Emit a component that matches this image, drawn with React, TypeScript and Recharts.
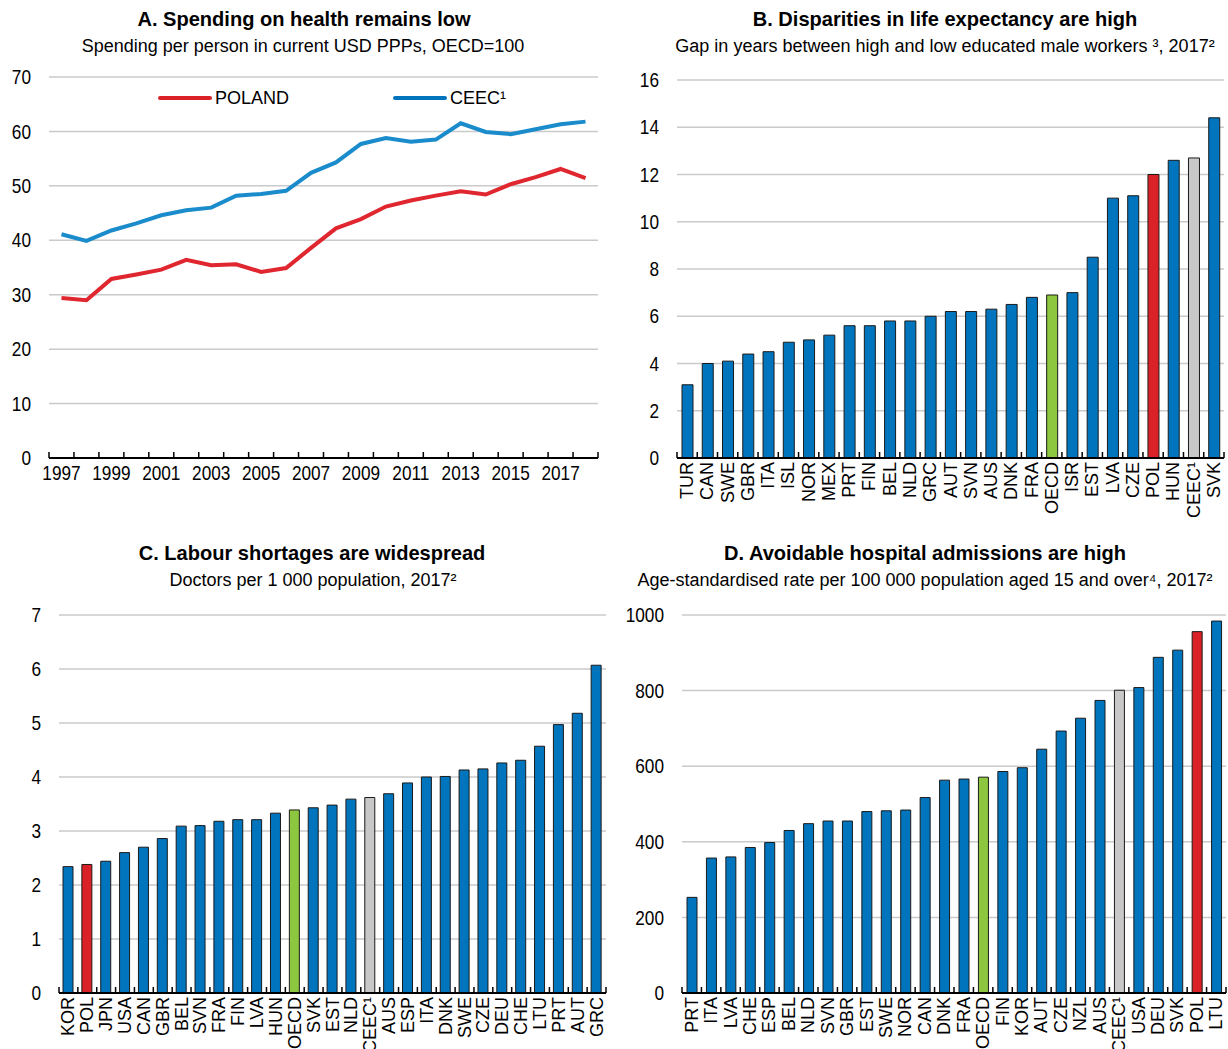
import React from "react";
import {
  Bar,
  BarChart,
  CartesianGrid,
  Cell,
  Line,
  LineChart,
  XAxis,
  YAxis,
} from "recharts";

const FONT = "'Liberation Sans', Arial, sans-serif";

const BLUE = "#0075BD";
const RED = "#DA2128";
const GREEN = "#8DC63F";
const GREY = "#C8C8C8";

// Panel A
const years = [
  "1997", "1998", "1999", "2000", "2001", "2002", "2003", "2004", "2005", "2006", "2007",
  "2008", "2009", "2010", "2011", "2012", "2013", "2014", "2015", "2016", "2017", "2018",
];
const polandSpend = [
  29.4, 29.0, 32.9, 33.7, 34.6, 36.4, 35.4, 35.6, 34.2, 34.9, 38.6,
  42.2, 43.9, 46.2, 47.3, 48.2, 49.0, 48.4, 50.3, 51.6, 53.1, 51.4,
];
const ceecSpend = [
  41.1, 39.9, 41.8, 43.1, 44.6, 45.5, 46.0, 48.2, 48.5, 49.1, 52.4,
  54.3, 57.7, 58.8, 58.1, 58.5, 61.5, 59.9, 59.5, 60.4, 61.3, 61.8,
];
const spendTicks = [0, 10, 20, 30, 40, 50, 60, 70];

// Panel B
const lifeCountries = [
  "TUR", "CAN", "SWE", "GBR", "ITA", "ISL", "NOR", "MEX", "PRT", "FIN", "BEL", "NLD", "GRC", "AUT",
  "SVN", "AUS", "DNK", "FRA", "OECD", "ISR", "EST", "LVA", "CZE", "POL", "HUN", "CEEC¹", "SVK",
];
const lifeGap = [
  3.1, 4.0, 4.1, 4.4, 4.5, 4.9, 5.0, 5.2, 5.6, 5.6, 5.8, 5.8, 6.0, 6.2,
  6.2, 6.3, 6.5, 6.8, 6.9, 7.0, 8.5, 11.0, 11.1, 12.0, 12.6, 12.7, 14.4,
];
const lifeTicks = [0, 2, 4, 6, 8, 10, 12, 14, 16];

// Panel C
const doctorCountries = [
  "KOR", "POL", "JPN", "USA", "CAN", "GBR", "BEL", "SVN", "FRA", "FIN", "LVA", "HUN", "OECD", "SVK", "EST",
  "NLD", "CEEC¹", "AUS", "ESP", "ITA", "DNK", "SWE", "CZE", "DEU", "CHE", "LTU", "PRT", "AUT", "GRC",
];
const doctorRate = [
  2.34, 2.38, 2.44, 2.6, 2.7, 2.86, 3.09, 3.1, 3.18, 3.21, 3.21, 3.33, 3.39, 3.43, 3.48,
  3.59, 3.62, 3.69, 3.89, 4.0, 4.01, 4.13, 4.15, 4.26, 4.31, 4.57, 4.97, 5.18, 6.07,
];
const doctorTicks = [0, 1, 2, 3, 4, 5, 6, 7];

// Panel D
const admissionCountries = [
  "PRT", "ITA", "LVA", "CHE", "ESP", "BEL", "NLD", "SVN", "GBR", "EST", "SWE", "NOR", "CAN", "DNK",
  "FRA", "OECD", "FIN", "KOR", "AUT", "CZE", "NZL", "AUS", "CEEC¹", "USA", "DEU", "SVK", "POL", "LTU",
];
const admissionRate = [
  253, 357, 360, 385, 398, 430, 448, 455, 455, 480, 482, 484, 517, 563,
  566, 571, 586, 596, 645, 693, 727, 774, 801, 808, 888, 907, 956, 984,
];
const admissionTicks = [0, 200, 400, 600, 800, 1000];

const colourFor = (name: string) =>
  name === "POL" ? RED : name === "OECD" ? GREEN : name === "CEEC¹" ? GREY : BLUE;

// numbers in the original are set in a narrow face, squeeze Liberation Sans to get close
const NARROW = 0.82;

function NumTick(props: any) {
  const { x, y, payload } = props;
  return (
    <text
      transform={`translate(${x},${y}) scale(${NARROW},1)`}
      textAnchor="end"
      dominantBaseline="central"
      fontSize={21}
      fontFamily={FONT}
      fill="#000"
    >
      {payload.value}
    </text>
  );
}

function BoundaryTick(props: any) {
  const { x, y, payload, index, visibleTicksCount, band, label } = props;
  const half = payload?.offset ?? band / 2;
  const last = index === visibleTicksCount - 1;
  return (
    <g>
      <line x1={x - half} y1={y} x2={x - half} y2={y - 6} stroke="#000" strokeWidth={1.5} />
      {last && <line x1={x + half} y1={y} x2={x + half} y2={y - 6} stroke="#000" strokeWidth={1.5} />}
      {label}
    </g>
  );
}

function YearTick(props: any) {
  const { x, y, payload, index } = props;
  const label =
    index % 2 === 0 ? (
      <text
        transform={`translate(${x},${y + 22}) scale(${NARROW},1)`}
        textAnchor="middle"
        fontSize={21}
        fontFamily={FONT}
        fill="#000"
      >
        {payload.value}
      </text>
    ) : null;
  return <BoundaryTick {...props} label={label} />;
}

function CountryTick(props: any) {
  const { x, y, payload } = props;
  const label = (
    <text
      transform={`translate(${x + 6},${y + 4}) rotate(-90)`}
      textAnchor="end"
      fontSize={18}
      fontFamily={FONT}
      fill="#000"
    >
      {payload.value}
    </text>
  );
  return <BoundaryTick {...props} label={label} />;
}

function Title({ cx, cy, text, bold }: { cx: number; cy: number; text: string; bold?: boolean }) {
  return (
    <div
      style={{
        position: "absolute",
        left: cx - 320,
        top: cy - 12,
        width: 640,
        height: 24,
        lineHeight: "24px",
        textAlign: "center",
        fontFamily: FONT,
        fontSize: bold ? 21 : 18,
        fontWeight: bold ? 700 : 400,
        transform: bold ? "scaleX(0.955)" : undefined,
        color: "#000",
        whiteSpace: "nowrap",
      }}
    >
      {text}
    </div>
  );
}

function SpendLegend() {
  const item = (left: number, colour: string, text: string) => (
    <div style={{ position: "absolute", left, top: 0, display: "flex", alignItems: "center", height: 24 }}>
      <div style={{ width: 54, height: 4, background: colour, borderRadius: 2 }} />
      <span style={{ marginLeft: 3, fontFamily: FONT, fontSize: 18, color: "#000", lineHeight: "24px" }}>
        {text}
      </span>
    </div>
  );
  return (
    <div style={{ position: "absolute", left: 0, top: 86, width: 614, height: 24 }}>
      {item(158, RED, "POLAND")}
      {item(393, BLUE, "CEEC¹")}
    </div>
  );
}

function SpendingPanel() {
  const data = years.map((year, i) => ({ year, poland: polandSpend[i], ceec: ceecSpend[i] }));
  return (
    <div style={{ position: "absolute", left: 0, top: 60 }}>
      <LineChart width={614} height={460} data={data} margin={{ top: 17, right: 16, left: 0, bottom: 0 }}>
        <CartesianGrid vertical={false} stroke="#CACACA" strokeWidth={1.5} />
        <XAxis
          dataKey="year"
          scale="band"
          height={62}
          interval={0}
          tickSize={0}
          tickMargin={0}
          tickLine={false}
          axisLine={{ stroke: "#000", strokeWidth: 2 }}
          tick={<YearTick band={549 / years.length} />}
        />
        <YAxis
          width={49}
          domain={[0, 70]}
          ticks={spendTicks}
          interval={0}
          axisLine={false}
          tickLine={false}
          tickSize={0}
          tickMargin={18}
          tick={<NumTick />}
        />
        <Line dataKey="poland" name="POLAND" stroke="#E0262F" strokeWidth={4} dot={false} isAnimationActive={false} />
        <Line dataKey="ceec" name="CEEC¹" stroke="#1A8BCB" strokeWidth={4} dot={false} isAnimationActive={false} />
      </LineChart>
    </div>
  );
}

interface BarPanelProps {
  left: number;
  top: number;
  height: number;
  yWidth: number;
  marginTop: number;
  marginRight: number;
  axisHeight: number;
  names: string[];
  values: number[];
  ticks: number[];
  barSize: number;
}

function BarPanel(p: BarPanelProps) {
  const data = p.names.map((name, i) => ({ name, value: p.values[i] }));
  const plotWidth = 614 - p.yWidth - p.marginRight;
  return (
    <div style={{ position: "absolute", left: p.left, top: p.top }}>
      <BarChart
        width={614}
        height={p.height}
        data={data}
        barCategoryGap={0}
        margin={{ top: p.marginTop, right: p.marginRight, left: 0, bottom: 0 }}
      >
        <CartesianGrid vertical={false} stroke="#CACACA" strokeWidth={1.5} />
        <XAxis
          dataKey="name"
          height={p.axisHeight}
          interval={0}
          tickSize={0}
          tickMargin={0}
          tickLine={false}
          axisLine={{ stroke: "#000", strokeWidth: 2 }}
          tick={<CountryTick band={plotWidth / p.names.length} />}
        />
        <YAxis
          width={p.yWidth}
          domain={[p.ticks[0], p.ticks[p.ticks.length - 1]]}
          ticks={p.ticks}
          interval={0}
          axisLine={false}
          tickLine={false}
          tickSize={0}
          tickMargin={18}
          tick={<NumTick />}
        />
        <Bar dataKey="value" barSize={p.barSize} stroke="#1A1A1A" strokeWidth={1} isAnimationActive={false}>
          {data.map((d) => (
            <Cell key={d.name} fill={colourFor(d.name)} />
          ))}
        </Bar>
      </BarChart>
    </div>
  );
}

export default function App() {
  return (
    <div style={{ position: "absolute", left: 0, top: 0, width: 1228, height: 1049, background: "#fff", overflow: "hidden" }}>
      <Title cx={304} cy={19} text="A. Spending on health remains low" bold />
      <Title cx={303} cy={46} text="Spending per person in current USD PPPs, OECD=100" />
      <Title cx={945} cy={19} text="B. Disparities in life expectancy are high" bold />
      <Title cx={945} cy={46} text="Gap in years between high and low educated male workers ³, 2017²" />
      <Title cx={312} cy={553} text="C. Labour shortages are widespread" bold />
      <Title cx={313} cy={580} text="Doctors per 1 000 population, 2017²" />
      <Title cx={925} cy={553} text="D. Avoidable hospital admissions are high" bold />
      <Title cx={925} cy={580} text="Age-standardised rate per 100 000 population aged 15 and over⁴, 2017²" />

      <SpendingPanel />
      <SpendLegend />
      <BarPanel
        left={614}
        top={60}
        height={480}
        yWidth={63}
        marginTop={20}
        marginRight={4}
        axisHeight={82}
        names={lifeCountries}
        values={lifeGap}
        ticks={lifeTicks}
        barSize={11}
      />
      <BarPanel
        left={0}
        top={595}
        height={454}
        yWidth={59}
        marginTop={20}
        marginRight={8}
        axisHeight={56}
        names={doctorCountries}
        values={doctorRate}
        ticks={doctorTicks}
        barSize={10}
      />
      <BarPanel
        left={614}
        top={595}
        height={454}
        yWidth={68}
        marginTop={20}
        marginRight={2}
        axisHeight={56}
        names={admissionCountries}
        values={admissionRate}
        ticks={admissionTicks}
        barSize={10}
      />
    </div>
  );
}
